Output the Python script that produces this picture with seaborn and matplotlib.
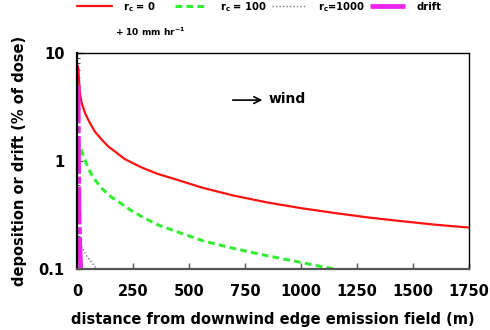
import matplotlib
matplotlib.use("Agg")
import matplotlib.pyplot as plt
from matplotlib.lines import Line2D
import seaborn as sns
import pandas as pd

# Deposition (% of dose) versus distance downwind (m)
red_x = [3, 6, 10, 13, 20, 36, 55, 80, 110, 140, 175, 214, 289, 360, 437, 560, 700, 850, 1000, 1150, 1300, 1430, 1600, 1750]
red_y = [7.6, 7.2, 5.2, 4.3, 3.5, 2.77, 2.3, 1.87, 1.58, 1.36, 1.2, 1.04, 0.87, 0.76, 0.68, 0.565, 0.478, 0.413, 0.366, 0.33, 0.30, 0.28, 0.257, 0.242]

green_x = [2, 6, 13, 24, 36, 50, 65, 85, 110, 150, 192, 240, 296, 363, 450, 564, 700, 847, 1000, 1115, 1200]
green_y = [1.6, 1.5, 1.4, 1.17, 1.02, 0.86, 0.75, 0.65, 0.56, 0.47, 0.41, 0.35, 0.30, 0.255, 0.22, 0.182, 0.155, 0.133, 0.115, 0.103, 0.096]

gray_x = [3, 13, 40, 65, 88, 100]
gray_y = [0.2, 0.174, 0.135, 0.115, 0.1, 0.095]

drift_x = [5, 6, 7, 9, 12, 17, 20]
drift_y = [5.0, 2.0, 0.9, 0.35, 0.17, 0.1, 0.09]

x_ticks = [0, 250, 500, 750, 1000, 1250, 1500, 1750]
y_ticks = [0.1, 1, 10]
y_tick_labels = ["0.1", "1", "10"]

sns.set_theme(style="ticks")
plt.rcParams["font.family"] = ["DejaVu Sans"]
plt.rcParams["font.weight"] = "bold"
plt.rcParams["text.color"] = "black"
plt.rcParams["axes.labelcolor"] = "black"
plt.rcParams["xtick.labelcolor"] = "black"
plt.rcParams["ytick.labelcolor"] = "black"
plt.rcParams["mathtext.fontset"] = "custom"
plt.rcParams["mathtext.rm"] = "DejaVu Sans:bold"
plt.rcParams["mathtext.it"] = "DejaVu Sans:bold"
plt.rcParams["mathtext.bf"] = "DejaVu Sans:bold"

W, H = 490, 330
fig = plt.figure(figsize=(W / 100, H / 100), dpi=100)
ax = fig.add_axes([77 / W, 1 - 269 / H, 392 / W, 216 / H])

series = [
    (red_x, red_y, r"r$_\mathrm{c}$ = 0", "#ff1111", dict(linewidth=1.6, linestyle="-")),
    (green_x, green_y, r"r$_\mathrm{c}$ = 100", "#33ee33", dict(linewidth=2.2, linestyle=(0, (2.2, 1.4)))),
    (gray_x, gray_y, r"r$_\mathrm{c}$=1000", "#777777", dict(linewidth=1.0, linestyle=(0, (1, 1.5)))),
    (drift_x, drift_y, "drift", "#ee22ee", dict(linewidth=3.4, linestyle=(0, (8, 0.6, 1.5, 0.6)))),
]
for xs, ys, lab, col, kw in series:
    df = pd.DataFrame({"x": xs, "y": ys})
    sns.lineplot(data=df, x="x", y="y", ax=ax, color=col, sort=False,
                 estimator=None, legend=False, **kw)

ax.set_yscale("log")
ax.set_xlim(0, 1750)
ax.set_ylim(0.1, 10)
ax.set_xticks(x_ticks)
ax.set_xticklabels([str(t) for t in x_ticks])
ax.set_yticks(y_ticks)
ax.set_yticklabels(y_tick_labels)

ax.tick_params(axis="both", which="major", direction="in", length=4, width=1,
               color="#555555", labelsize=10.5, labelcolor="black")
ax.tick_params(axis="y", which="minor", direction="in", length=2.5, width=0.8, color="#555555")
ax.tick_params(axis="x", which="major", pad=11)
ax.tick_params(axis="y", which="major", pad=9)
for lbl in ax.get_xticklabels() + ax.get_yticklabels():
    lbl.set_fontweight("bold")

for side in ["top", "right", "left", "bottom"]:
    ax.spines[side].set_visible(True)
ax.spines["left"].set_color("black")
ax.spines["left"].set_linewidth(1.6)
ax.spines["top"].set_color("black")
ax.spines["top"].set_linewidth(1.0)
ax.spines["bottom"].set_color("#555555")
ax.spines["bottom"].set_linewidth(1.6)
ax.spines["right"].set_color("black")
ax.spines["right"].set_linewidth(1.0)
ax.spines["right"].set_linestyle((0, (2, 1)))

ax.set_xlabel("distance from downwind edge emission field (m)", fontsize=10.5,
              fontweight="bold", labelpad=9)
ax.set_ylabel("deposition or drift (% of dose)", fontsize=10.5,
              fontweight="bold", labelpad=8)

# Wind direction marker
ax.annotate("", xy=(0.48, 0.782), xytext=(0.39, 0.782), xycoords="axes fraction",
            arrowprops=dict(arrowstyle="->", color="black", lw=1.2))
ax.text(0.488, 0.785, "wind", transform=ax.transAxes, fontsize=10,
        fontweight="bold", va="center", ha="left")

# Key along the top edge
key_slots = [(77, 112, 123), (175, 208, 220), (272, 305, 318), (370, 405, 416)]
for (xs, ys, lab, col, kw), (x0, x1, xt) in zip(series, key_slots):
    fig.add_artist(Line2D([x0 / W, x1 / W], [1 - 6 / H, 1 - 6 / H],
                          transform=fig.transFigure, color=col, **kw))
    fig.text(xt / W, 1 - 7 / H, lab, fontsize=7.2, fontweight="bold",
             va="center", ha="left")
fig.text(115 / W, 1 - 32 / H, r"+ 10 mm hr$^{\mathrm{-1}}$", fontsize=6.5,
         fontweight="bold", va="center", ha="left")

fig.savefig("out.png", dpi=100, facecolor="white")
